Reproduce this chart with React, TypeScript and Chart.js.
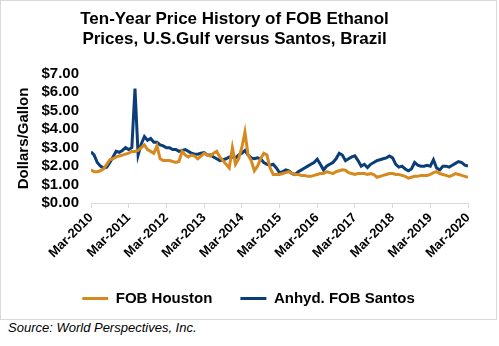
import React, { useEffect, useRef } from "react";
import { Chart, registerables } from "chart.js";

Chart.register(...registerables);

const TITLE = ["Ten-Year Price History of FOB Ethanol", "Prices, U.S.Gulf versus Santos, Brazil"];
const MONTHS = ["Jan", "Feb", "Mar", "Apr", "May", "Jun", "Jul", "Aug", "Sep", "Oct", "Nov", "Dec"];
const START_YEAR = 2010;
const START_MONTH = 2; // March
const Y_TICKS = [0, 1, 2, 3, 4, 5, 6, 7];

// Monthly values, Mar-2010 .. Mar-2020
const houston = [
  1.8, 1.7, 1.7, 1.75, 1.85, 2.1, 2.35, 2.4, 2.5, 2.55,
  2.6, 2.65, 2.7, 2.8, 2.8, 2.85, 3.0, 3.15, 2.9, 2.8, 2.7, 3.1,
  2.4, 2.3, 2.3, 2.3, 2.25, 2.2, 2.25, 2.8, 2.6, 2.5, 2.6, 2.55,
  2.4, 2.55, 2.7, 2.6, 2.55, 2.7, 2.8, 2.5, 2.3, 2.1, 1.9, 3.0,
  2.1, 2.4, 3.0, 3.85, 2.6, 2.3, 1.75, 2.0, 2.4, 2.7, 2.6, 1.9,
  1.55, 1.55, 1.55, 1.6, 1.65, 1.7, 1.6, 1.55, 1.55, 1.5, 1.5, 1.45,
  1.45, 1.5, 1.55, 1.6, 1.6, 1.7, 1.65, 1.6, 1.7, 1.75, 1.8, 1.78,
  1.65, 1.6, 1.55, 1.6, 1.6, 1.6, 1.55, 1.6, 1.55, 1.4, 1.45, 1.5,
  1.55, 1.6, 1.6, 1.55, 1.55, 1.5, 1.45, 1.35, 1.4, 1.45, 1.45, 1.5,
  1.5, 1.5, 1.55, 1.65, 1.7, 1.6, 1.55, 1.5, 1.45, 1.5, 1.6, 1.55,
  1.5, 1.45, 1.4,
];

const santos = [
  2.78, 2.6, 2.2, 2.0, 1.9, 1.95, 2.2, 2.5, 2.8, 2.75,
  2.85, 3.0, 2.9, 3.0, 6.2, 2.6, 3.2, 3.6, 3.4, 3.5, 3.3, 3.3,
  3.15, 3.1, 3.0, 3.0, 2.9, 2.9, 2.8, 2.85, 2.9, 2.8, 2.7, 2.65,
  2.65, 2.7, 2.73, 2.6, 2.6, 2.5, 2.4, 2.3, 2.35, 2.4, 2.5, 2.5,
  2.45, 2.6, 2.7, 2.85, 2.6, 2.45, 2.4, 2.45, 2.4, 2.2, 2.1, 2.05,
  2.1, 1.9, 1.65, 1.7, 1.8, 1.75, 1.6, 1.55, 1.7, 1.8, 1.9, 2.0,
  2.1, 2.2, 2.38, 2.1, 1.8, 2.0, 2.1, 2.2, 2.4, 2.7, 2.6, 2.3,
  2.4, 2.5, 2.56, 2.3, 2.0, 2.1, 1.92, 2.1, 2.2, 2.3, 2.35, 2.4,
  2.45, 2.55, 2.45, 2.1, 1.95, 2.0, 1.85, 1.75, 1.85, 2.2, 2.05, 2.0,
  2.0, 2.05, 2.0, 2.35, 1.9, 1.8, 2.0, 2.0, 1.95, 2.05, 2.15, 2.25,
  2.2, 2.05, 2.0,
];

const monthLabel = (i: number) => {
  const m = START_MONTH + i;
  return `${MONTHS[m % 12]}-${START_YEAR + Math.floor(m / 12)}`;
};

const ORANGE = "#D6891E";
const BLUE = "#0B3D78";
const FONT = "'Liberation Sans', Arial, sans-serif";

const legendShift = {
  id: "legendShift",
  afterLayout(chart: any) {
    const lg = chart.legend;
    if (lg) {
      lg.left += 14;
      lg.right += 14;
    }
  },
};

export default function App() {
  const ref = useRef<HTMLCanvasElement>(null);
  useEffect(() => {
    document.body.style.margin = "0";
    const chart = new Chart(ref.current!, {
      type: "line",
      plugins: [legendShift],
      data: {
        datasets: [
          {
            label: "FOB Houston",
            data: houston.map((v, i) => ({ x: i, y: v })),
            borderColor: ORANGE,
            backgroundColor: ORANGE,
            borderWidth: 3,
            pointRadius: 0,
            tension: 0,
          },
          {
            label: "Anhyd. FOB Santos",
            data: santos.map((v, i) => ({ x: i, y: v })),
            borderColor: BLUE,
            backgroundColor: BLUE,
            borderWidth: 3,
            pointRadius: 0,
            tension: 0,
          },
        ],
      },
      options: {
        responsive: false,
        animation: false,
        layout: { padding: { top: 4, right: 28, bottom: 3, left: 0 } },
        plugins: {
          tooltip: { enabled: false },
          title: {
            display: true,
            text: TITLE,
            color: "#000",
            font: { family: FONT, size: 17, weight: "bold", lineHeight: 1.2 },
            padding: { top: 4, bottom: 24 },
          },
          legend: {
            position: "bottom",
            labels: {
              usePointStyle: true,
              pointStyle: "line",
              pointStyleWidth: 26,
              color: "#000",
              font: { family: FONT, size: 15, weight: "bold" },
              padding: 28,
            },
          },
        },
        scales: {
          x: {
            type: "linear",
            min: 0,
            max: houston.length - 1,
            afterBuildTicks: (scale: any) => {
              const t = [];
              for (let i = 0; i < houston.length; i += 12) t.push({ value: i });
              scale.ticks = t;
            },
            ticks: {
              autoSkip: false,
              maxRotation: 45,
              minRotation: 45,
              color: "#000",
              font: { family: FONT, size: 13, weight: "bold" },
              padding: 2,
              callback: (v: any) => monthLabel(Number(v)),
            },
            grid: { drawOnChartArea: false, drawTicks: true, tickLength: 5, color: "#d9d9d9" },
            border: { display: true, color: "#d9d9d9" },
          },
          y: {
            min: 0,
            max: 7,
            afterBuildTicks: (scale: any) => {
              scale.ticks = Y_TICKS.map((v) => ({ value: v }));
            },
            ticks: {
              autoSkip: false,
              color: "#000",
              font: { family: FONT, size: 15, weight: "bold" },
              padding: 4,
              callback: (v: any) => `$${Number(v).toFixed(2)}`,
            },
            grid: { display: false },
            border: { display: false },
            title: {
              display: true,
              text: "Dollars/Gallon",
              color: "#000",
              font: { family: FONT, size: 15, weight: "bold" },
              padding: { top: 14, bottom: 0 },
            },
            afterFit: (scale: any) => {
              scale.width = 90;
            },
          },
        },
      },
    });
    return () => chart.destroy();
  }, []);

  return (
    <div style={{ position: "absolute", left: 0, top: 0, width: 499, height: 346, background: "#fff" }}>
      <div
        style={{
          position: "absolute",
          left: 0,
          top: 0,
          width: 497,
          height: 320,
          border: "1px solid #d9d9d9",
          boxSizing: "border-box",
        }}
      >
        <canvas ref={ref} width={495} height={318} style={{ display: "block" }} />
      </div>
      <div
        style={{
          position: "absolute",
          left: 8,
          top: 320,
          fontFamily: FONT,
          fontStyle: "italic",
          fontSize: 13,
          color: "#000",
          lineHeight: "16px",
        }}
      >
        Source: World Perspectives, Inc.
      </div>
    </div>
  );
}
